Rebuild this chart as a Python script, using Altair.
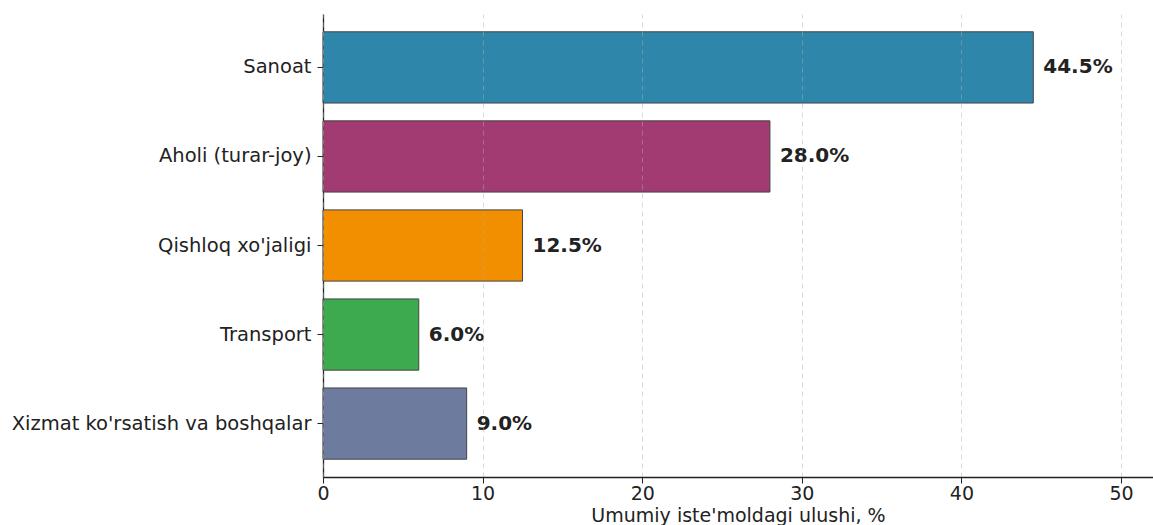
import altair as alt
import pandas as pd

categories = ["Sanoat", "Aholi (turar-joy)", "Qishloq xo'jaligi", "Transport",
              "Xizmat ko'rsatish va boshqalar"]
shares = [44.5, 28.0, 12.5, 6.0, 9.0]
colors = ["#2E86AB", "#A23B72", "#F18F01", "#3DAA4F", "#6D7B9E"]
labels = [f"{v:.1f}%" for v in shares]
x_ticks = [0, 10, 20, 30, 40, 50]

df = pd.DataFrame({"cat": categories, "val": shares, "label": labels, "color": colors})

FONT = "DejaVu Sans"

y = alt.Y("cat:N", sort=categories,
          scale=alt.Scale(paddingInner=0.2, paddingOuter=0.2),
          axis=alt.Axis(title=None, labelFont=FONT, labelFontSize=19.5, labelColor="#222",
                        tickSize=6, tickColor="#222", labelPadding=6,
                        domainColor="#222", domainWidth=1.3, labelLimit=400))
x = alt.X("val:Q", scale=alt.Scale(domain=[0, 52], nice=False, zero=True),
          axis=alt.Axis(values=x_ticks, title="Umumiy iste'moldagi ulushi, %",
                        titleFont=FONT, titleFontSize=19, titleFontWeight="normal",
                        titleColor="#222", titlePadding=3,
                        labelFont=FONT, labelFontSize=19, labelColor="#222",
                        labelFlush=False,
                        tickSize=6, tickColor="#222", labelPadding=1,
                        domainColor="#222", domainWidth=1.3, zindex=1,
                        grid=True, gridDash=[5, 4], gridColor="#b0b0b0",
                        gridOpacity=0.45, gridWidth=1))

bars = alt.Chart(df).mark_bar(stroke="#444", strokeWidth=1).encode(
    x=x, y=y, color=alt.Color("color:N", scale=None, legend=None))

text = alt.Chart(df).mark_text(align="left", baseline="middle", dx=10, fontWeight="bold",
                               fontSize=20, font=FONT, color="#222").encode(
    x=alt.X("val:Q"), y=alt.Y("cat:N", sort=categories), text="label:N")

chart = (bars + text).properties(
    width=830, height=463,
    background="white",
    autosize=alt.AutoSizeParams(type="none"),
    padding={"left": 323, "top": 14, "right": 0, "bottom": 48},
).configure_view(stroke="transparent", strokeWidth=0)

chart.save("out.html", embed_options={"renderer": "svg", "actions": False})
